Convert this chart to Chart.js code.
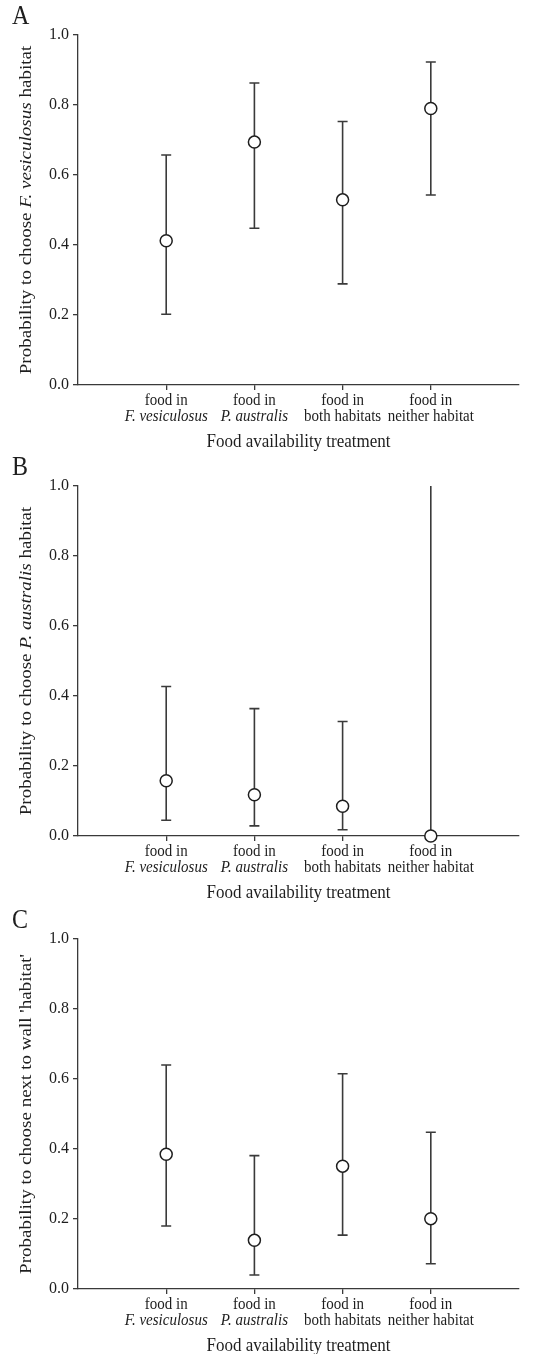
<!DOCTYPE html>
<html>
<head>
<meta charset="utf-8">
<script src="https://cdn.jsdelivr.net/npm/chart.js@4.4.1/dist/chart.umd.min.js"></script>
<style>
  body { margin: 0; background: #fff; }
  .panel { position: absolute; left: 0; width: 560px; height: 452px; }
</style>
</head>
<body>
<div class="panel" style="top:0px"><canvas id="chartA"></canvas></div>
<div class="panel" style="top:451px"><canvas id="chartB"></canvas></div>
<div class="panel" style="top:904px"><canvas id="chartC"></canvas></div>
<script>
// treatments (x categories), two-line labels
const labelTop = ['food in', 'food in', 'food in', 'food in'];
const labelBottom = ['F. vesiculosus', 'P. australis', 'both habitats', 'neither habitat'];
const labelBottomItalic = [true, true, false, false];
const yTicks = [0, 0.2, 0.4, 0.6, 0.8, 1.0];

// A: choose F. vesiculosus habitat
const probA = [0.412, 0.694, 0.529, 0.790];
const lowA  = [0.202, 0.448, 0.289, 0.543];
const highA = [0.657, 0.863, 0.753, 0.923];

// B: choose P. australis habitat
const probB = [0.158, 0.118, 0.085, 0.0];
const lowB  = [0.045, 0.029, 0.018, 0.0];
const highB = [0.427, 0.364, 0.327, 1.0];

// C: choose next to wall 'habitat'
const probC = [0.385, 0.139, 0.351, 0.201];
const lowC  = [0.180, 0.040, 0.154, 0.072];
const highC = [0.640, 0.381, 0.615, 0.448];

const titleA = [['Probability to choose ', false], ['F. vesiculosus', true], [' habitat', false]];
const titleB = [['Probability to choose ', false], ['P. australis', true], [' habitat', false]];
const titleC = [["Probability to choose next to wall 'habitat'", false]];

const SERIF = '"Liberation Serif", "Times New Roman", serif';
const INK = '#1e1e1e';
const LINE = '#3a3a3a';

function font(size, italic) {
  return (italic ? 'italic ' : '') + size + 'px ' + SERIF;
}

// text in the source is a bit taller than wide, stretch it vertically
function tallText(ctx, text, x, y) {
  ctx.save();
  ctx.translate(x, y);
  ctx.scale(1, 1.1);
  ctx.fillText(text, 0, 0);
  ctx.restore();
}

function makePanel(id, letter, titleParts, prob, low, high) {
  const extras = {
    id: 'extras_' + id,
    beforeDatasetsDraw(chart) {
      const ctx = chart.ctx, xs = chart.scales.x, ys = chart.scales.y;
      ctx.save();
      ctx.strokeStyle = LINE;
      ctx.lineWidth = 1.6;
      prob.forEach((p, i) => {
        const x = xs.getPixelForValue(i + 1);
        const yl = ys.getPixelForValue(low[i]);
        const yh = ys.getPixelForValue(high[i]);
        ctx.beginPath();
        ctx.moveTo(x, yl); ctx.lineTo(x, yh);
        if (high[i] < 1) { ctx.moveTo(x - 5, yh); ctx.lineTo(x + 5, yh); }
        if (low[i] > 0) { ctx.moveTo(x - 5, yl); ctx.lineTo(x + 5, yl); }
        ctx.stroke();
      });
      ctx.restore();
    },
    afterDraw(chart) {
      const ctx = chart.ctx, xs = chart.scales.x, area = chart.chartArea;
      ctx.save();
      ctx.fillStyle = INK;
      ctx.textAlign = 'center';
      ctx.textBaseline = 'middle';
      // x tick labels
      labelTop.forEach((t, i) => {
        const x = xs.getPixelForValue(i + 1);
        ctx.font = font(15, false);
        tallText(ctx, t, x, area.bottom + 16);
        ctx.font = font(15, labelBottomItalic[i]);
        tallText(ctx, labelBottom[i], x, area.bottom + 32);
      });
      // x title
      ctx.font = font(17, false);
      tallText(ctx, 'Food availability treatment', (xs.left + xs.right) / 2, area.bottom + 57);
      // y title with italic parts
      ctx.save();
      ctx.translate(27, (area.top + area.bottom) / 2);
      ctx.rotate(-Math.PI / 2);
      ctx.scale(1.12, 1);
      ctx.textAlign = 'left';
      let total = 0;
      titleParts.forEach(([t, it]) => { ctx.font = font(17, it); total += ctx.measureText(t).width; });
      let pos = -total / 2;
      titleParts.forEach(([t, it]) => {
        ctx.font = font(17, it);
        ctx.fillText(t, pos, 0);
        pos += ctx.measureText(t).width;
      });
      ctx.restore();
      // panel letter
      ctx.textAlign = 'left';
      ctx.font = font(24, false);
      tallText(ctx, letter, 12, 17);
      ctx.restore();
    }
  };

  return new Chart(document.getElementById(id), {
    type: 'scatter',
    data: {
      datasets: [{
        data: prob.map((v, i) => ({ x: i + 1, y: v })),
        pointRadius: 6,
        pointBackgroundColor: '#fff',
        pointBorderColor: INK,
        pointBorderWidth: 1.5,
        clip: false
      }]
    },
    options: {
      responsive: true,
      maintainAspectRatio: false,
      animation: false,
      layout: { padding: { left: 0, right: 41, top: 35, bottom: 0 } },
      plugins: { legend: { display: false }, tooltip: { enabled: false } },
      scales: {
        x: {
          type: 'linear', min: 0, max: 5,
          afterBuildTicks: s => { s.ticks = labelTop.map((_, i) => ({ value: i + 1 })); },
          afterFit: s => { s.height = 67; },
          ticks: { display: false },
          grid: { drawOnChartArea: false, tickLength: 5, color: LINE, lineWidth: 1.3 },
          border: { color: LINE, width: 1.3 }
        },
        y: {
          min: 0, max: 1,
          afterBuildTicks: s => { s.ticks = yTicks.map(v => ({ value: v })); },
          afterFit: s => { s.width = 78; },
          ticks: { callback: v => v.toFixed(1), font: { family: SERIF, size: 16 }, color: INK, padding: 4 },
          grid: { drawOnChartArea: false, tickLength: 5, color: LINE, lineWidth: 1.3 },
          border: { color: LINE, width: 1.3 }
        }
      }
    },
    plugins: [extras]
  });
}

makePanel('chartA', 'A', titleA, probA, lowA, highA);
makePanel('chartB', 'B', titleB, probB, lowB, highB);
makePanel('chartC', 'C', titleC, probC, lowC, highC);
</script>
</body>
</html>
